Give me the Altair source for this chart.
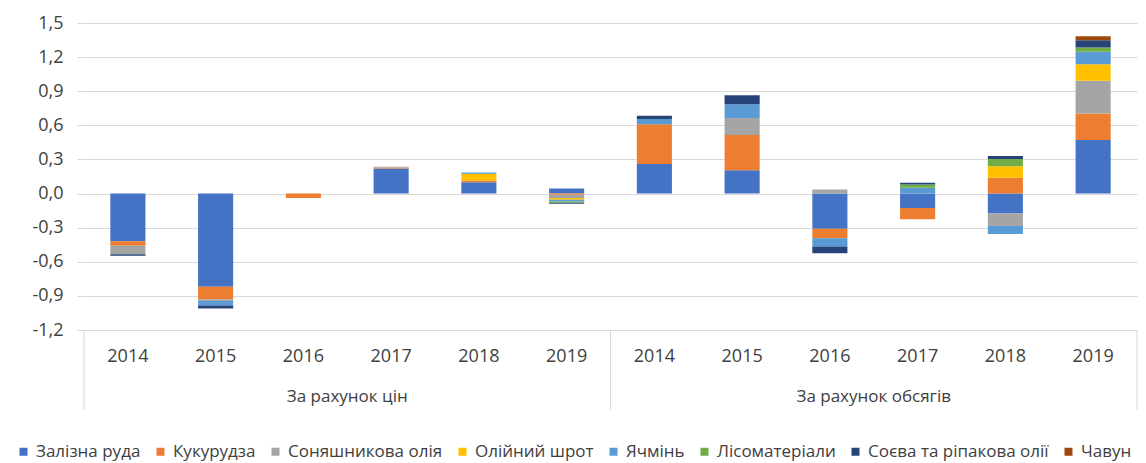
import altair as alt
import pandas as pd

FONT = "Open Sans"

groups = ["За рахунок цін", "За рахунок обсягів"]
group_codes = ["p", "v"]
years = ["2014", "2015", "2016", "2017", "2018", "2019"]

series = ["Залізна руда", "Кукурудза", "Соняшникова олія", "Олійний шрот",
          "Ячмінь", "Лісоматеріали", "Соєва та ріпакова олії", "Чавун"]
colors = ["#4472C4", "#ED7D31", "#A5A5A5", "#FFC000",
          "#5B9BD5", "#70AD47", "#264478", "#9E480E"]

# values per category: prices 2014..2019, then volumes 2014..2019
zaliz = [-0.42, -0.82, 0.0, 0.22, 0.10, 0.045, 0.26, 0.205, -0.31, -0.126, -0.175, 0.47]
kukur = [-0.04, -0.11, -0.04, 0.01, 0.015, -0.01, 0.35, 0.31, -0.082, -0.10, 0.14, 0.235]
sonyash = [-0.074, -0.015, 0.0, 0.005, 0.0, -0.03, 0.0, 0.15, 0.035, 0.0, -0.11, 0.287]
shrot = [0.0, 0.0, 0.0, 0.0, 0.06, -0.015, 0.0, 0.0, 0.0, 0.0, 0.10, 0.146]
yachmin = [0.0, -0.04, 0.0, 0.0, 0.01, -0.015, 0.045, 0.12, -0.073, 0.05, -0.07, 0.109]
lis = [0.0, 0.0, 0.0, 0.0, 0.0, -0.01, 0.0, 0.0, 0.0, 0.03, 0.065, 0.038]
soeva = [-0.014, -0.025, 0.0, 0.0, 0.0, -0.01, 0.03, 0.08, -0.06, 0.015, 0.025, 0.064]
chavun = [0.0, 0.0, 0.0, 0.0, 0.0, 0.0, 0.0, 0.0, 0.0, 0.0, 0.0, 0.035]

values = [zaliz, kukur, sonyash, shrot, yachmin, lis, soeva, chavun]

cats = [f"{g}|{y}" for g in group_codes for y in years]

rows = []
for si, (name, vals) in enumerate(zip(series, values)):
    for ci, v in enumerate(vals):
        if v != 0:
            rows.append({"cat": cats[ci], "series": name, "idx": si, "value": v})
df = pd.DataFrame(rows)

W, H = 1053, 307
TEXT = "#404040"

bars = alt.Chart(df).mark_bar().encode(
    x=alt.X("cat:N", sort=cats, title=None,
            scale=alt.Scale(domain=cats, paddingInner=0.6, paddingOuter=0.3),
            axis=alt.Axis(labelExpr="split(datum.value, '|')[1]", labelAngle=0,
                          domain=False, ticks=False, labelPadding=17,
                          labelFont=FONT, labelFontSize=18, labelColor=TEXT,
                          grid=False)),
    y=alt.Y("value:Q", title=None, stack="zero",
            scale=alt.Scale(domain=[-1.2, 1.5], nice=False, zero=False),
            axis=alt.Axis(values=[-1.2, -0.9, -0.6, -0.3, 0.0, 0.3, 0.6, 0.9, 1.2, 1.5],
                          labelExpr="replace(replace(format(datum.value, '.1f'), '.', ','), '\u2212', '-')",
                          domain=False, ticks=True, tickSize=7, tickColor="#D9D9D9",
                          grid=True, gridColor="#D9D9D9", gridWidth=1,
                          labelPadding=14, labelFont=FONT, labelFontSize=18,
                          labelColor=TEXT)),
    color=alt.Color("series:N",
                    scale=alt.Scale(domain=series, range=colors),
                    legend=alt.Legend(title=None, orient="none", direction="horizontal",
                                      columns=8, legendX=-69, legendY=420,
                                      symbolType="square", symbolSize=64,
                                      symbolStrokeWidth=0, labelFont=FONT,
                                      labelFontSize=17, labelColor=TEXT,
                                      labelLimit=400, columnPadding=11,
                                      labelOffset=4, padding=0)),
    order=alt.Order("idx:Q"),
)

gdf = pd.DataFrame({"grp": groups})
glabels = alt.Chart(gdf).mark_text(font=FONT, fontSize=17, color=TEXT,
                                  baseline="middle", align="center").encode(
    x=alt.X("grp:N", sort=groups, axis=None,
            scale=alt.Scale(domain=groups, paddingInner=0, paddingOuter=0)),
    y=alt.value(H + 67),
    text="grp:N",
)

sdf = pd.DataFrame({"b": [0, 6, 12]})
seps = alt.Chart(sdf).mark_rule(color="#D9D9D9", strokeWidth=1).encode(
    x=alt.X("b:Q", axis=None, scale=alt.Scale(domain=[0, 12], nice=False, zero=False)),
    y=alt.value(H),
    y2=alt.value(H + 80),
)

chart = alt.layer(bars, seps, glabels).resolve_scale(x="independent").properties(
    width=W, height=H,
    autosize=alt.AutoSizeParams(type="none"),
    padding={"left": 76, "top": 15, "right": 1, "bottom": 133},
    background="white",
).configure_view(stroke=None)

chart.save("out.html", embed_options={"renderer": "svg", "actions": False})
